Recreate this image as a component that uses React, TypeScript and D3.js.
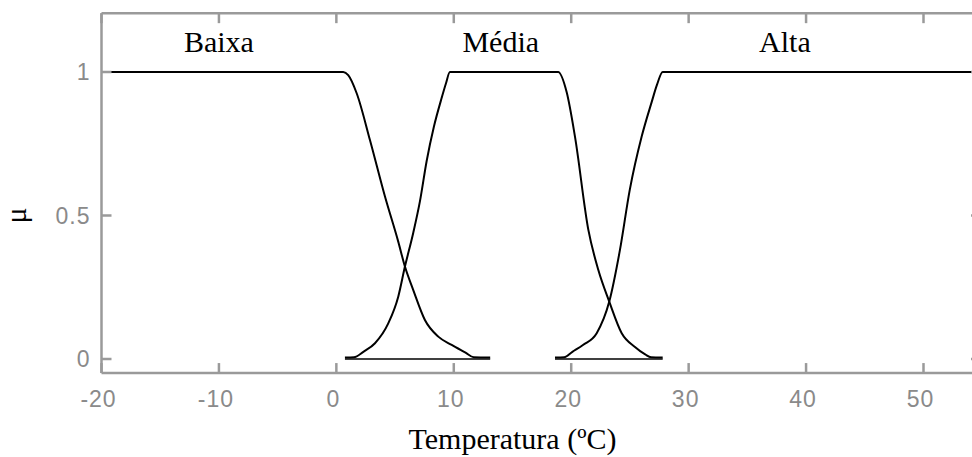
import React from "react";
import * as d3 from "d3";

// Membership functions for temperature (°C)
const baixaT = [-20, 0.59, 1.01, 1.73, 2.86, 4.14, 5.27, 5.84, 6.55, 7.54, 8.68, 9.82, 11.0, 11.7, 13.1];
const baixaMu = [1, 1, 0.989, 0.926, 0.763, 0.566, 0.409, 0.322, 0.24, 0.136, 0.078, 0.049, 0.022, 0.006, 0.005];

const mediaT = [0.73, 1.5, 2.3, 3.29, 4.42, 5.27, 5.84, 6.55, 7.12, 7.69, 8.31, 8.97, 9.33, 9.67, 18.89, 19.61, 20.32, 21.46, 22.31, 23.24, 24.3, 25.43, 26.3, 26.8, 27.79];
const mediaMu = [0.005, 0.006, 0.025, 0.055, 0.124, 0.217, 0.322, 0.44, 0.55, 0.69, 0.81, 0.91, 0.96, 1, 1, 0.93, 0.775, 0.45, 0.31, 0.2, 0.09, 0.042, 0.016, 0.006, 0.005];

const altaT = [18.62, 19.4, 20.1, 21.0, 22.17, 23.24, 24.15, 24.99, 26.0, 26.85, 27.3, 27.79, 56];
const altaMu = [0.005, 0.006, 0.025, 0.049, 0.09, 0.2, 0.38, 0.59, 0.775, 0.895, 0.955, 1, 1];

// Zero-level base segments under the overlapping tails
const baseStart = [0.73, 18.62];
const baseEnd = [13.1, 27.79];

const setNames = ["Baixa", "Média", "Alta"];
const setLabelT = [-10, 14, 38.2];

const xTicks = [-20, -10, 0, 10, 20, 30, 40, 50];
const yTicks = [0, 0.5, 1];

const W = 972;
const H = 457;

export default function App() {
  const x = d3.scaleLinear().domain([-20, 50]).range([101.5, 923.5]);
  const y = d3.scaleLinear().domain([0, 1]).range([359, 72]);

  const left = x(-20);
  const right = x(54.9);
  const top = y(1.205);
  const bottom = y(-0.049);

  const line = d3
    .line<[number, number]>()
    .x((d) => x(d[0]))
    .y((d) => y(d[1]))
    .curve(d3.curveMonotoneX);

  const series = [
    baixaT.map((t, i) => [t, baixaMu[i]] as [number, number]),
    mediaT.map((t, i) => [t, mediaMu[i]] as [number, number]),
    altaT.map((t, i) => [t, altaMu[i]] as [number, number]),
  ];

  const axisColor = "#9a9a9a";
  const tickColor = "#8a8a8a";
  const tickLen = 10;

  return (
    <svg
      width={W}
      height={H}
      style={{ position: "absolute", left: 0, top: 0, background: "#fff" }}
    >
      <rect x={0} y={0} width={W} height={H} fill="#fff" />
      <defs>
        <clipPath id="plotClip">
          <rect x={left} y={top} width={right - left} height={bottom - top} />
        </clipPath>
      </defs>

      {/* membership curves */}
      <g clipPath="url(#plotClip)" fill="none" stroke="#000" strokeLinejoin="round">
        {series.map((s, i) => (
          <path key={i} d={line(s) ?? ""} strokeWidth={2} />
        ))}
        {baseStart.map((b, i) => (
          <line
            key={i}
            x1={x(b)}
            x2={x(baseEnd[i])}
            y1={y(0)}
            y2={y(0)}
            strokeWidth={1.6}
          />
        ))}
      </g>

      {/* axes box */}
      <g stroke={axisColor} strokeWidth={2.5} fill="none">
        <line x1={left} x2={right} y1={top} y2={top} />
        <line x1={left} x2={right} y1={bottom} y2={bottom} />
        <line x1={left} x2={left} y1={top} y2={bottom} />
        <line x1={right} x2={right} y1={top} y2={bottom} />
        {xTicks.map((t) => (
          <g key={t}>
            <line x1={x(t)} x2={x(t)} y1={bottom} y2={bottom - tickLen} />
            <line x1={x(t)} x2={x(t)} y1={top} y2={top + tickLen} />
          </g>
        ))}
        {yTicks.map((t) => (
          <g key={t}>
            <line x1={left} x2={left + tickLen} y1={y(t)} y2={y(t)} />
            <line x1={right} x2={right - tickLen} y1={y(t)} y2={y(t)} />
          </g>
        ))}
      </g>

      {/* tick labels */}
      <g
        fill={tickColor}
        fontFamily="'Liberation Sans', Arial, sans-serif"
        fontSize={23}
        letterSpacing={1}
      >
        {xTicks.map((t) => (
          <text key={t} x={x(t) - 3} y={407} textAnchor="middle">
            {String(t)}
          </text>
        ))}
        {yTicks.map((t) => (
          <text key={t} x={left - 11} y={y(t) + 8} textAnchor="end">
            {String(t)}
          </text>
        ))}
      </g>

      {/* set names and axis titles */}
      <g fontFamily="'Liberation Serif', 'Times New Roman', serif" fontSize={30} fill="#000">
        {setNames.map((n, i) => (
          <text key={n} x={x(setLabelT[i])} y={y(1.07)} textAnchor="middle">
            {n}
          </text>
        ))}
        <text x={x(15)} y={449} textAnchor="middle">
          Temperatura (ºC)
        </text>
        <text transform={`translate(26, ${y(0.5)}) rotate(-90)`} textAnchor="middle">
          μ
        </text>
      </g>
    </svg>
  );
}
